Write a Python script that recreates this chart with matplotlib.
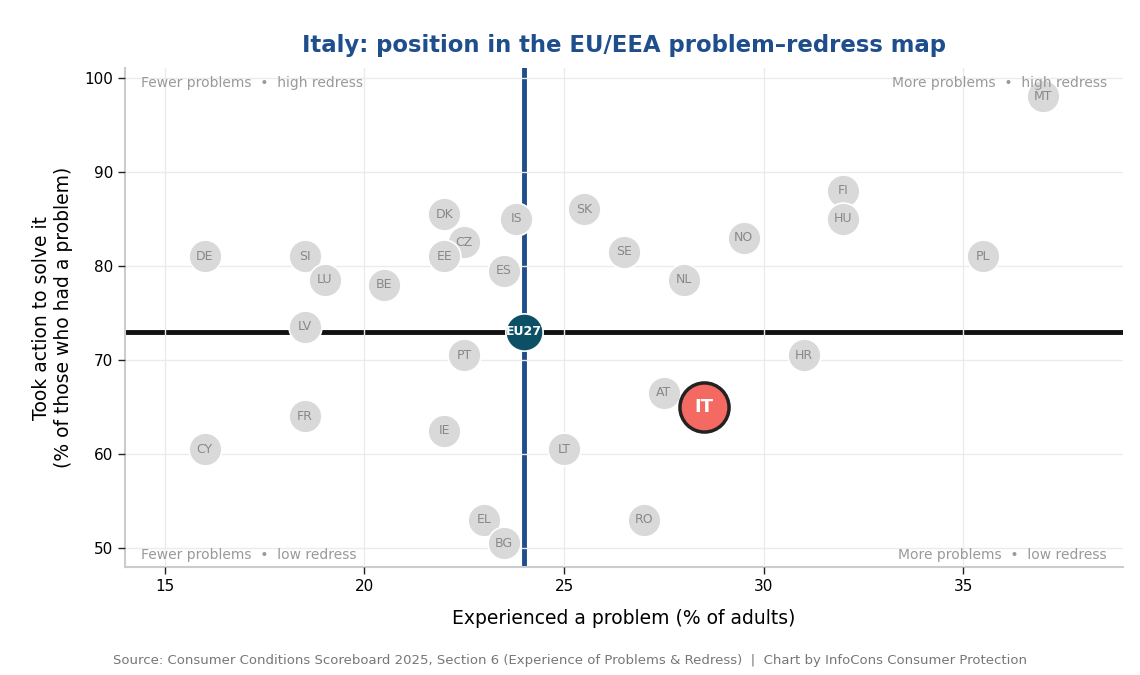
import matplotlib
matplotlib.use("Agg")
import matplotlib.pyplot as plt

countries = ["DE", "SI", "LU", "BE", "DK", "CZ", "EE", "ES", "IS", "SK", "SE", "NL", "NO",
             "FI", "HU", "PL", "MT", "LV", "PT", "HR", "AT", "FR", "IE", "CY", "LT", "EL",
             "RO", "BG"]
problems = [16.0, 18.5, 19.0, 20.5, 22.0, 22.5, 22.0, 23.5, 23.8, 25.5, 26.5, 28.0, 29.5,
            32.0, 32.0, 35.5, 37.0, 18.5, 22.5, 31.0, 27.5, 18.5, 22.0, 16.0, 25.0, 23.0,
            27.0, 23.5]
action = [81.0, 81.0, 78.5, 78.0, 85.5, 82.5, 81.0, 79.5, 85.0, 86.0, 81.5, 78.5, 83.0,
          88.0, 85.0, 81.0, 98.0, 73.5, 70.5, 70.5, 66.5, 64.0, 62.5, 60.5, 60.5, 53.0,
          53.0, 50.5]

eu_label = "EU27"
eu_problems = 24.0
eu_action = 73.0

it_label = "IT"
it_problems = 28.5
it_action = 65.0

x_ticks = [15, 20, 25, 30, 35]
y_ticks = [50, 60, 70, 80, 90, 100]

fig = plt.figure(figsize=(11.4, 6.75), dpi=100)
ax = fig.add_axes([0.1096, 0.16, 0.8754, 0.739])

ax.set_xlim(14, 39)
ax.set_ylim(48, 101)
ax.set_xticks(x_ticks)
ax.set_yticks(y_ticks)

ax.grid(True, color="#ebebeb", linewidth=1)
ax.set_axisbelow(False)
for gl in ax.get_xgridlines() + ax.get_ygridlines():
    gl.set_zorder(2.5)

ax.axvline(eu_problems, color="#1f4e8c", linewidth=3.5, zorder=2)
ax.axhline(eu_action, color="#111111", linewidth=3.5, zorder=2)

ax.scatter(problems, action, s=560, color="#d9d9d9", edgecolor="white", linewidth=1.2, zorder=3)
for c, xv, yv in zip(countries, problems, action):
    ax.text(xv, yv, c, ha="center", va="center", fontsize=9, color="#888888", zorder=4)

ax.scatter([eu_problems], [eu_action], s=720, color="#0c5066", edgecolor="white", linewidth=1.2, zorder=5)
ax.text(eu_problems, eu_action, eu_label, ha="center", va="center", fontsize=9,
        color="white", fontweight="bold", zorder=6)

ax.scatter([it_problems], [it_action], s=1250, color="#f46a62", edgecolor="#222222", linewidth=2.5, zorder=7)
ax.text(it_problems, it_action, it_label, ha="center", va="center", fontsize=13,
        color="white", fontweight="bold", zorder=8)

corner_kw = dict(fontsize=10, color="#999999", transform=ax.transAxes, zorder=9)
ax.text(0.016, 0.970, "Fewer problems  \u2022  high redress", ha="left", va="center", **corner_kw)
ax.text(0.984, 0.970, "More problems  \u2022  high redress", ha="right", va="center", **corner_kw)
ax.text(0.016, 0.024, "Fewer problems  \u2022  low redress", ha="left", va="center", **corner_kw)
ax.text(0.984, 0.024, "More problems  \u2022  low redress", ha="right", va="center", **corner_kw)

for side in ["top", "right"]:
    ax.spines[side].set_visible(False)
for side in ["left", "bottom"]:
    ax.spines[side].set_color("#cccccc")
    ax.spines[side].set_linewidth(1.5)
ax.tick_params(axis="both", labelsize=11, length=5, width=1, color="#222222")

ax.set_xlabel("Experienced a problem (% of adults)", fontsize=13.5, labelpad=11)
ax.set_ylabel("Took action to solve it\n(% of those who had a problem)", fontsize=13.5, labelpad=8)
ax.set_title("Italy: position in the EU/EEA problem\u2013redress map", fontsize=16.4,
             fontweight="bold", color="#1f4e8c", pad=12)

fig.text(0.5, 0.022, "Source: Consumer Conditions Scoreboard 2025, Section 6 (Experience of Problems & Redress)  |  Chart by InfoCons Consumer Protection",
         ha="center", va="center", fontsize=9.5, color="#777777")

fig.savefig("out.png", dpi=100)
